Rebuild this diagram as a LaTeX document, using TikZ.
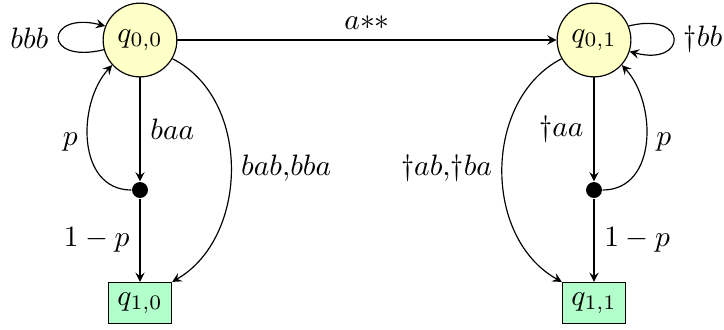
\documentclass[tikz,border=0pt]{standalone}
\usetikzlibrary{arrows}
\definecolor{stateyellow}{RGB}{255,255,200}
\definecolor{stategreen}{RGB}{179,255,204}
\newcommand{\dg}{\mathord{\dagger}}
\begin{document}
\begin{tikzpicture}[x=0.339pt,y=-0.339pt,>=stealth,
  statecirc/.style={circle,draw,fill=stateyellow,minimum size=25pt,inner sep=0pt},
  statebox/.style={rectangle,draw,fill=stategreen,minimum width=21.4pt,minimum height=13.9pt,inner sep=0pt},
  chance/.style={circle,fill=black,minimum size=5.4pt,inner sep=0pt},
  edge/.style={->}]
\useasboundingbox (0,0) rectangle (724,329);
\node[statecirc] (q00) at (140,40) {$q_{0,0}$};
\node[statecirc] (q01) at (594,40) {$q_{0,1}$};
\node[chance] (d0) at (140,190) {};
\node[chance] (d1) at (594,190) {};
\node[statebox] (q10) at (140,303) {$q_{1,0}$};
\node[statebox] (q11) at (594,303) {$q_{1,1}$};

\draw[edge] (q00) -- node[above] {$a{*}{*}$} (q01);
\draw[edge] (q00.195) .. controls +(-62,15) and +(-60,-15) .. node[left] {$bbb$} (q00.158);
\draw[edge] (q01.22) .. controls +(60,-15) and +(58,15) .. node[right] {$\dg bb$} (q01.-18);

\draw[edge] (q00) -- node[right] {$baa$} (d0);
\draw[edge] (d0) -- node[left] {$1-p$} (q10);
\draw[edge] (d0.west) .. controls +(-55,0) and +(-35,38) .. node[left] {$p$} (q00.222);
\draw[edge] (q00.-30) .. controls +(79,40) and +(77,-45) .. node[right] {$bab{,}bba$} (q10.north east);

\draw[edge] (q01) -- node[left] {$\dg aa$} (d1);
\draw[edge] (d1) -- node[right] {$1-p$} (q11);
\draw[edge] (d1.east) .. controls +(55,0) and +(35,38) .. node[right] {$p$} (q01.-42);
\draw[edge] (q01.210) .. controls +(-78,40) and +(-80,-45) .. node[left] {$\dg ab{,}\dg ba$} (q11.north west);
\end{tikzpicture}
\end{document}
